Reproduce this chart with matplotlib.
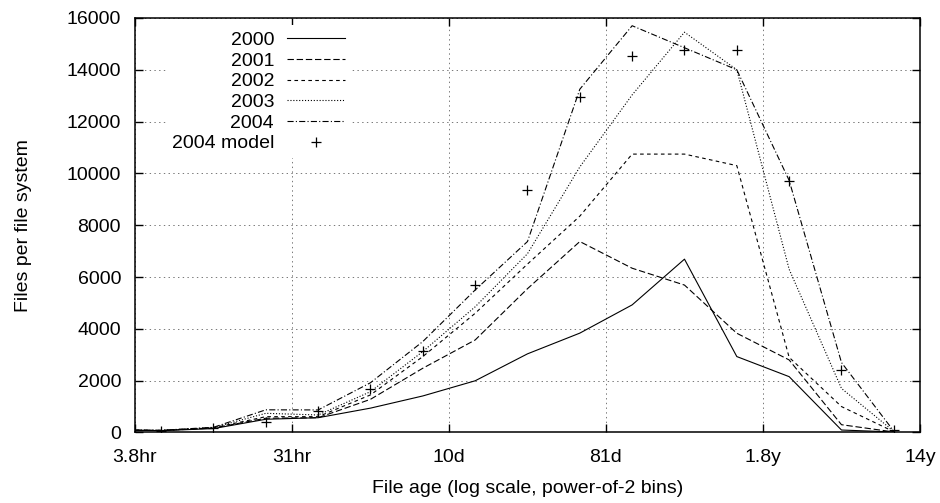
import matplotlib
matplotlib.use("Agg")
import matplotlib.pyplot as plt
import numpy as np

### Data (files per file system, power-of-2 age bins)
# bin -0.5 is the partial bin left of the 3.8hr edge, it gets clipped
bin_index = np.arange(16) - 0.5
tick_pos = [0, 3, 6, 9, 12, 15]
tick_labels = ["3.8hr", "31hr", "10d", "81d", "1.8y", "14y"]

y2000 = [100, 70, 150, 510, 570, 940, 1410, 1995, 3035, 3835, 4925, 6690, 2930, 2155, 95, 20]
y2001 = [100, 75, 170, 550, 570, 1280, 2480, 3570, 5550, 7370, 6340, 5690, 3830, 2800, 300, 20]
y2002 = [100, 80, 180, 610, 610, 1450, 2930, 4600, 6500, 8350, 10745, 10745, 10300, 2900, 1000, 30]
y2003 = [100, 80, 190, 740, 675, 1575, 3125, 4850, 6900, 10250, 13030, 15450, 14000, 6300, 1700, 40]
y2004 = [100, 85, 200, 875, 870, 1920, 3510, 5500, 7370, 13250, 15700, 14850, 14000, 9730, 2700, 50]
model2004 = [70, 180, 420, 830, 1665, 3160, 5700, 9350, 12960, 14545, 14765, 14765, 9711, 2420, 80]

### Style, gnuplot-ish
plt.rcParams['font.family'] = ['Liberation Sans', 'DejaVu Sans']
plt.rcParams['font.size'] = 14
plt.rcParams['lines.scale_dashes'] = False

fig = plt.figure(figsize=(9.4, 5.03), dpi=100)
ax = fig.add_axes([0.1436, 0.1402, 0.8351, 0.8241])

lw = 0.8
ax.plot(bin_index, y2000, color='k', lw=lw, label='2000')
ax.plot(bin_index, y2001, color='k', lw=lw, dashes=(4.6, 2.0), label='2001')
ax.plot(bin_index, y2002, color='k', lw=lw, dashes=(2.6, 2.4), label='2002')
ax.plot(bin_index, y2003, color='k', lw=lw, dashes=(0.8, 1.3), label='2003')
ax.plot(bin_index, y2004, color='k', lw=lw, dashes=(4.4, 1.6, 0.8, 1.6), label='2004')
ax.plot(bin_index[1:], model2004, linestyle='none', marker='+', color='k',
        markersize=7, markeredgewidth=0.9, label='2004 model')

ax.set_xlim(0, 15)
ax.set_ylim(0, 16000)
ax.set_xticks(tick_pos)
ax.set_xticklabels(tick_labels)
ax.set_yticks(np.arange(0, 16001, 2000))

ax.tick_params(direction='in', length=6, width=1, top=True, right=True,
               labelsize=14, colors='k')
ax.tick_params(axis='x', pad=12)
ax.tick_params(axis='y', pad=10)
for s in ax.spines.values():
    s.set_linewidth(1.1)

ax.grid(True, color='#777777', linestyle=(0, (1, 2.4)), linewidth=0.7)
ax.set_axisbelow(True)

ax.set_xlabel('File age (log scale, power-of-2 bins)', fontsize=14, labelpad=10)
ax.set_ylabel('Files per file system', fontsize=14, labelpad=25)

leg = ax.legend(loc='upper right', bbox_to_anchor=(0.275, 0.982), borderaxespad=0,
                markerfirst=False, frameon=True, fancybox=False, borderpad=0.3,
                handlelength=3.0, handletextpad=0.65, labelspacing=0.16, fontsize=14)
leg.get_frame().set_edgecolor('none')
leg.get_frame().set_facecolor('white')
leg.get_frame().set_alpha(1)

fig.savefig('out.png', dpi=100)
